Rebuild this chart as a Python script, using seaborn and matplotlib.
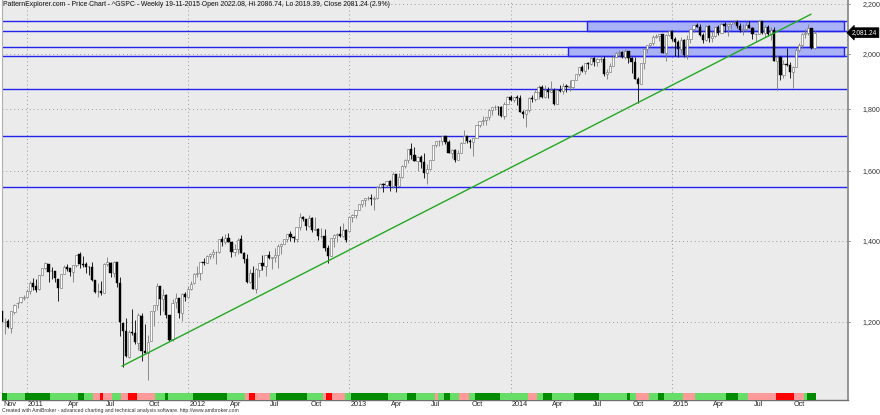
import numpy as np
import pandas as pd
import seaborn as sns
import matplotlib.pyplot as plt
from matplotlib.patches import Rectangle
from matplotlib.ticker import FixedLocator, NullLocator
import matplotlib.transforms as mtransforms

# ^GSPC weekly bars, week 0 = 12-11-2010 ... week 262 = 19-11-2015
opens = [
    1226, 1199, 1201, 1186, 1223, 1243, 1245, 1256,  # 2010
    1258, 1272, 1293, 1284, 1277, 1311, 1329, 1340, 1323, 1322, 1301, 1281, 1315, 1333, 1329, 1319, 1338, 1365,
    1340, 1339, 1333, 1331, 1300, 1272, 1272, 1268, 1339, 1343, 1316, 1344, 1292, 1198, 1179, 1123, 1177, 1174,
    1153, 1214, 1136, 1131, 1158, 1225, 1238, 1284, 1254, 1263, 1216, 1162, 1246, 1256, 1221, 1266,  # 2011
    1258, 1278, 1291, 1315, 1316, 1345, 1343, 1361, 1366, 1370, 1371, 1404, 1397, 1408, 1398, 1370, 1379, 1404,
    1369, 1353, 1295, 1318, 1278, 1325, 1343, 1334, 1363, 1355, 1357, 1363, 1386, 1391, 1406, 1418, 1410, 1406,
    1438, 1466, 1460, 1441, 1461, 1429, 1433, 1412, 1414, 1380, 1360, 1409, 1416, 1418, 1414, 1430,  # 2012
    1426, 1466, 1472, 1486, 1503, 1513, 1518, 1520, 1516, 1518, 1551, 1561, 1557, 1569, 1553, 1589, 1555, 1582,
    1614, 1634, 1667, 1650, 1631, 1643, 1627, 1592, 1606, 1632, 1680, 1692, 1692, 1710, 1691, 1656, 1664, 1633,
    1655, 1688, 1710, 1692, 1691, 1703, 1745, 1760, 1762, 1771, 1798, 1805, 1806, 1805, 1775, 1818,  # 2013
    1841, 1831, 1842, 1839, 1790, 1783, 1797, 1839, 1836, 1859, 1878, 1841, 1867, 1858, 1865, 1816, 1865, 1863,
    1881, 1878, 1878, 1901, 1924, 1949, 1936, 1963, 1961, 1985, 1968, 1978, 1978, 1925, 1932, 1955, 1988, 2003,
    2008, 1986, 2010, 1983, 1968, 1906, 1887, 1965, 2018, 2032, 2040, 2064, 2068, 2075, 2002, 2071,  # 2014
    2089, 2058, 2045, 2019, 2052, 1995, 2055, 2097, 2110, 2105, 2071, 2053, 2108, 2061, 2067, 2102, 2081, 2118,
    2108, 2116, 2123, 2126, 2107, 2093, 2094, 2110, 2101, 2077, 2077, 2127, 2080, 2104, 2078, 2092, 1971, 1989,
    1921, 1961, 1958, 1931, 1951, 2015, 2033, 2075, 2079, 2099, 2022.08,  # 2015
]
highs = [
    1227, 1208, 1207, 1225, 1241, 1247, 1259, 1263,
    1278, 1296, 1304, 1302, 1311, 1330, 1344, 1340, 1333, 1323, 1301, 1314, 1337, 1339, 1329, 1338, 1364, 1370,
    1359, 1346, 1334, 1346, 1300, 1292, 1298, 1341, 1357, 1344, 1347, 1346, 1308, 1198, 1208, 1182, 1230, 1204,
    1220, 1220, 1195, 1171, 1224, 1239, 1293, 1284, 1277, 1266, 1216, 1253, 1267, 1256, 1268, 1270,
    1285, 1297, 1316, 1334, 1345, 1355, 1363, 1368, 1378, 1374, 1405, 1414, 1419, 1422, 1398, 1391, 1407, 1415,
    1371, 1365, 1328, 1334, 1330, 1343, 1364, 1362, 1374, 1357, 1380, 1391, 1395, 1406, 1419, 1426, 1414, 1438,
    1475, 1467, 1460, 1471, 1464, 1464, 1435, 1434, 1433, 1389, 1409, 1418, 1421, 1439, 1448, 1432,
    1467, 1473, 1486, 1503, 1514, 1518, 1524, 1530, 1526, 1553, 1564, 1564, 1570, 1573, 1597, 1589, 1592, 1618,
    1635, 1668, 1687, 1674, 1646, 1649, 1655, 1620, 1632, 1680, 1693, 1698, 1710, 1710, 1697, 1669, 1669, 1664,
    1691, 1730, 1711, 1700, 1704, 1745, 1760, 1775, 1774, 1799, 1806, 1813, 1810, 1809, 1823, 1844,
    1849, 1843, 1850, 1850, 1798, 1798, 1841, 1847, 1867, 1883, 1883, 1884, 1876, 1897, 1873, 1865, 1884, 1891,
    1888, 1903, 1901, 1924, 1950, 1956, 1963, 1968, 1986, 1986, 1984, 1991, 1992, 1943, 1964, 1993, 2006, 2012,
    2010, 2019, 2010, 1986, 1986, 1912, 1965, 2018, 2034, 2041, 2072, 2075, 2076, 2075, 2077, 2093,
    2092, 2065, 2054, 2065, 2058, 2072, 2097, 2110, 2120, 2117, 2082, 2114, 2114, 2089, 2103, 2111, 2120, 2126,
    2117, 2124, 2134, 2133, 2121, 2115, 2126, 2130, 2102, 2081, 2132, 2129, 2114, 2113, 2103, 2103, 1993, 1990,
    1976, 2021, 1967, 1952, 2021, 2039, 2079, 2094, 2116, 2100, 2086.74,
]
lows = [
    1194, 1173, 1185, 1174, 1217, 1232, 1243, 1251,
    1257, 1265, 1275, 1270, 1276, 1311, 1326, 1294, 1302, 1295, 1249, 1281, 1314, 1322, 1309, 1294, 1333, 1330,
    1332, 1318, 1311, 1297, 1268, 1258, 1262, 1267, 1334, 1306, 1307, 1283, 1168, 1101, 1122, 1121, 1171, 1150,
    1137, 1114, 1131, 1074, 1158, 1191, 1228, 1215, 1226, 1209, 1158, 1158, 1231, 1209, 1203, 1248,
    1258, 1275, 1290, 1306, 1300, 1338, 1341, 1352, 1355, 1340, 1368, 1387, 1391, 1397, 1357, 1360, 1366, 1367,
    1343, 1292, 1291, 1278, 1267, 1306, 1325, 1309, 1353, 1326, 1345, 1329, 1365, 1391, 1397, 1400, 1397, 1397,
    1428, 1455, 1430, 1438, 1425, 1429, 1403, 1407, 1373, 1343, 1360, 1385, 1398, 1411, 1410, 1398,
    1426, 1451, 1462, 1486, 1494, 1495, 1513, 1498, 1485, 1515, 1547, 1538, 1550, 1539, 1549, 1536, 1555, 1577,
    1609, 1623, 1635, 1630, 1598, 1608, 1578, 1560, 1601, 1632, 1674, 1676, 1681, 1684, 1654, 1640, 1628, 1633,
    1655, 1687, 1688, 1671, 1646, 1703, 1740, 1746, 1747, 1761, 1780, 1797, 1779, 1772, 1767, 1818,
    1827, 1823, 1815, 1790, 1770, 1738, 1791, 1825, 1826, 1834, 1839, 1839, 1839, 1858, 1815, 1816, 1859, 1851,
    1859, 1862, 1868, 1901, 1917, 1930, 1925, 1944, 1958, 1953, 1955, 1967, 1916, 1905, 1932, 1955, 1987, 1992,
    1985, 1978, 1965, 1926, 1906, 1821, 1887, 1944, 2002, 2025, 2034, 2062, 2050, 2002, 1972, 2070,
    2047, 1992, 1988, 2004, 1989, 1981, 2041, 2086, 2103, 2067, 2040, 2049, 2046, 2046, 2064, 2073, 2080, 2083,
    2068, 2095, 2117, 2100, 2085, 2072, 2088, 2100, 2057, 2044, 2077, 2077, 2063, 2068, 2053, 1971, 1867, 1903,
    1910, 1953, 1908, 1872, 1951, 2006, 2022, 2062, 2072, 2019, 2019.39,
]
closes = [
    1199, 1200, 1189, 1225, 1240, 1244, 1257, 1258,
    1272, 1293, 1283, 1276, 1311, 1329, 1343, 1320, 1321, 1304, 1279, 1314, 1332, 1328, 1320, 1337, 1364, 1340,
    1338, 1333, 1331, 1300, 1271, 1272, 1268, 1340, 1344, 1316, 1345, 1292, 1199, 1179, 1124, 1177, 1174, 1154,
    1216, 1136, 1131, 1155, 1225, 1238, 1285, 1253, 1264, 1216, 1159, 1244, 1255, 1220, 1265, 1258,
    1278, 1289, 1315, 1316, 1345, 1343, 1361, 1366, 1370, 1371, 1404, 1397, 1408, 1398, 1370, 1379, 1403, 1369,
    1353, 1295, 1318, 1278, 1326, 1343, 1335, 1362, 1355, 1357, 1363, 1386, 1391, 1406, 1418, 1411, 1407, 1438,
    1466, 1460, 1441, 1461, 1429, 1433, 1412, 1414, 1380, 1360, 1409, 1416, 1418, 1414, 1430, 1402,
    1466, 1472, 1486, 1503, 1513, 1518, 1520, 1516, 1518, 1551, 1561, 1557, 1569, 1553, 1589, 1555, 1582, 1614,
    1634, 1667, 1650, 1631, 1643, 1627, 1592, 1606, 1632, 1680, 1692, 1692, 1710, 1691, 1656, 1664, 1633, 1655,
    1688, 1710, 1692, 1691, 1703, 1745, 1760, 1762, 1771, 1798, 1805, 1806, 1805, 1775, 1818, 1841,
    1831, 1842, 1839, 1790, 1783, 1797, 1839, 1836, 1859, 1878, 1841, 1867, 1858, 1865, 1816, 1865, 1863, 1881,
    1878, 1878, 1901, 1924, 1949, 1936, 1963, 1961, 1985, 1968, 1978, 1978, 1925, 1932, 1955, 1988, 2003, 2008,
    1986, 2010, 1983, 1968, 1906, 1887, 1965, 2018, 2032, 2040, 2064, 2068, 2075, 2002, 2071, 2089,
    2058, 2045, 2019, 2052, 1995, 2055, 2097, 2110, 2105, 2071, 2053, 2108, 2061, 2067, 2102, 2081, 2118, 2108,
    2116, 2123, 2126, 2107, 2093, 2094, 2110, 2101, 2077, 2077, 2127, 2080, 2104, 2078, 2092, 1971, 1989, 1921,
    1961, 1958, 1931, 1951, 2015, 2033, 2075, 2079, 2099, 2023, 2081.24,
]

# date axis (week index of first bar of the month)
tick_pos = [0, 8, 21, 33, 47, 60, 73, 86, 99, 112, 125, 138, 151, 164, 177, 190, 203, 216, 229, 242, 255]
tick_labels = ["Nov", "2011", "Apr", "Jul", "Oct", "2012", "Apr", "Jul", "Oct", "2013", "Apr", "Jul", "Oct",
               "2014", "Apr", "Jul", "Oct", "2015", "Apr", "Jul", "Oct"]
year_pos = [8, 60, 112, 164, 216]
price_ticks = [1200, 1400, 1600, 1800, 2000, 2200]

# support / resistance lines and zones
levels = [2130, 2089, 2024, 1992, 1869, 1710, 1550]
zone_lo = [2089, 1992]
zone_hi = [2130, 2024]
zone_start = [188.7, 182.5]
zone_end = 271.5

# trend line
trend_x = [38.7, 260.9]
trend_y = [1103, 2156]

# bottom ribbon: (state, weeks)
ribbon_runs = [
    ("dg", 2), ("lg", 6), ("dg", 8), ("lg", 9), ("dg", 2), ("lg", 3), ("pk", 2), ("rd", 1), ("pk", 3),
    ("lg", 3), ("pk", 2), ("rd", 3), ("pk", 6), ("lg", 3), ("dg", 1), ("lg", 8), ("dg", 11), ("lg", 6),
    ("pk", 1), ("rd", 2), ("pk", 5), ("lg", 2), ("dg", 10), ("lg", 5), ("pk", 1), ("rd", 2), ("pk", 4),
    ("lg", 2), ("dg", 12), ("lg", 6), ("dg", 3), ("lg", 6), ("pk", 1), ("lg", 2), ("dg", 2), ("lg", 3),
    ("pk", 3), ("lg", 2), ("dg", 8), ("lg", 9), ("pk", 3), ("lg", 2), ("dg", 3), ("lg", 7), ("dg", 8),
    ("lg", 9), ("dg", 1), ("lg", 2), ("pk", 4), ("lg", 3), ("dg", 2), ("lg", 6), ("pk", 4), ("lg", 10),
    ("dg", 4), ("lg", 3), ("pk", 9), ("rd", 6), ("pk", 3), ("lg", 1), ("dg", 3),
]
ribbon_colors = {"dg": "#008a00", "lg": "#66dd66", "pk": "#ff9a9a", "rd": "#ff0000"}

title = ("PatternExplorer.com - Price Chart - ^GSPC - Weekly 19-11-2015 Open 2022.08, Hi 2086.74, "
         "Lo 2019.39, Close 2081.24 (2.9%)")
footer = "Created with AmiBroker - advanced charting and technical analysis software. http://www.amibroker.com"

sns.set_theme(style="white")
plt.rcParams['font.family'] = ['Liberation Sans', 'DejaVu Sans']

df = pd.DataFrame({"open": opens, "high": highs, "low": lows, "close": closes})
df["week"] = np.arange(len(df))
df["up"] = df["close"] >= df["open"]

W, H = 880, 415
fig = plt.figure(figsize=(W / 100, H / 100), dpi=100)
fig.patch.set_facecolor("white")
ax = fig.add_axes([2 / W, 15 / H, 846 / W, 400 / H])
ax.set_facecolor("#ebebeb")
ax.set_yscale("log")
ax.set_xlim(0, 272.8)
ax.set_ylim(1034, 2215)

blue = "#2323ee"
grid_c = "#9a9a9a"

# grid
for p in price_ticks:
    ax.axhline(p, color=grid_c, lw=0.7, ls=(0, (1, 3)), zorder=0.5)
for x in year_pos:
    ax.axvline(x, color=grid_c, lw=0.7, ls=(0, (1, 3)), zorder=0.5)

# zones and levels
for lo, hi, st in zip(zone_lo, zone_hi, zone_start):
    ax.add_patch(Rectangle((st, lo), zone_end - st, hi - lo, facecolor="#aab2f6",
                           edgecolor=blue, lw=1.0, zorder=1))
for lvl in levels:
    ax.axhline(lvl, color=blue, lw=1.0, zorder=1.5)

# candles
upd = df[df["up"]]
dnd = df[~df["up"]]
ax.vlines(upd["week"], upd["low"], upd["high"], color="#7a7a7a", lw=0.6, zorder=2)
ax.vlines(dnd["week"], dnd["low"], dnd["high"], color="black", lw=0.6, zorder=2)
bw = 0.72
ax.bar(upd["week"], (upd["close"] - upd["open"]).clip(lower=0.8), bottom=upd["open"], width=bw,
       color="white", edgecolor="#666666", lw=0.4, zorder=3)
ax.bar(dnd["week"], (dnd["open"] - dnd["close"]).clip(lower=0.8), bottom=dnd["close"], width=bw,
       color="black", edgecolor="black", lw=0.3, zorder=3)

# trend line
sns.lineplot(x=trend_x, y=trend_y, ax=ax, color="#22a822", lw=1.0, zorder=4, legend=False)

# axes styling
ax.spines["top"].set_visible(False)
ax.spines["left"].set_color("#b0b0b0")
ax.spines["left"].set_linewidth(0.8)
ax.spines["right"].set_color("#8c8c8c")
ax.spines["right"].set_linewidth(1.3)
ax.spines["bottom"].set_color("#707070")
ax.spines["bottom"].set_linewidth(1.0)

ax.yaxis.tick_right()
ax.yaxis.set_major_locator(FixedLocator(price_ticks))
ax.yaxis.set_minor_locator(NullLocator())
ax.set_yticklabels([f"{p:,}" for p in price_ticks])
ax.tick_params(axis="y", which="major", direction="out", length=1.5, width=0.6, color="#707070",
               pad=9, labelsize=5.1, labelcolor="#333333")
ax.set_xticks(tick_pos)
ax.set_xticklabels(tick_labels)
ax.tick_params(axis="x", direction="out", length=3, width=0.6, color="#333333", pad=-2.4,
               labelsize=5.2, labelcolor="#222222")
shift = mtransforms.ScaledTranslation(1.2 / 100, 0, fig.dpi_scale_trans)
for lbl in ax.get_xticklabels():
    lbl.set_ha("left")
    lbl.set_transform(lbl.get_transform() + shift)
ax.set_xlabel("")
ax.set_ylabel("")

# last price marker
ax.annotate("2,081.24", xy=(1.0, closes[-1]), xycoords=("axes fraction", "data"),
            xytext=(3, 0), textcoords="offset points", ha="left", va="center",
            fontsize=4.7, color="white", annotation_clip=False,
            bbox=dict(boxstyle="larrow,pad=0.22", fc="black", ec="black", lw=0.5))

ax.text(0.0015, 0.997, title, transform=ax.transAxes, ha="left", va="top", fontsize=4.95,
        color="#111111", zorder=6)

# bottom ribbon
ribbon = [ribbon_colors[s] for s, n in ribbon_runs for _ in range(n)]
axr = fig.add_axes([2 / W, 15 / H, 846 / W, 7 / H])
axr.set_xlim(ax.get_xlim())
axr.set_ylim(0, 1)
axr.bar(np.arange(len(ribbon)), 1, width=1.02, color=ribbon, lw=0)
axr.axis("off")

fig.text(2 / W, 1 - 410 / H, footer, ha="left", va="center", fontsize=3.7, color="#333333")

fig.savefig("out.png", dpi=100)
